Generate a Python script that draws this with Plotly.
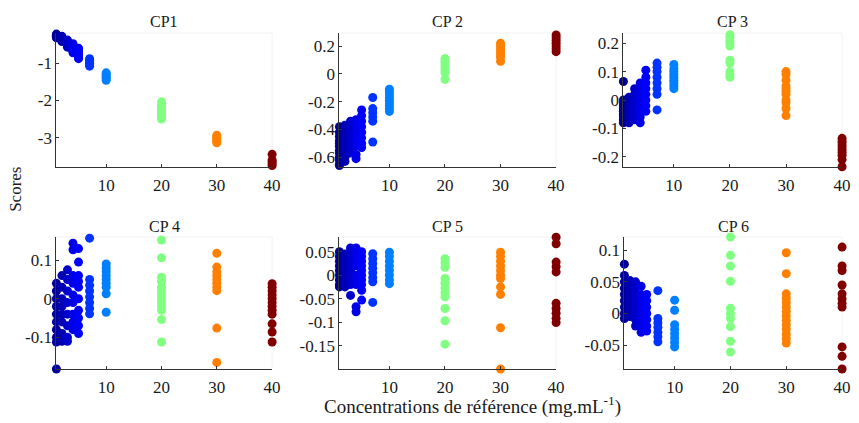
import plotly.graph_objects as go

# ---------------- data ----------------
conc = [1, 2, 3, 4, 5, 7, 10, 20, 30, 40]

cp1_scores = [
    [-0.22, -0.24, -0.26, -0.28, -0.30, -0.32],
    [-0.28, -0.32, -0.35, -0.38, -0.40, -0.42],
    [-0.38, -0.42, -0.46, -0.50, -0.54, -0.57],
    [-0.48, -0.52, -0.56, -0.60, -0.64, -0.68, -0.72],
    [-0.60, -0.65, -0.70, -0.75, -0.80, -0.85, -0.88],
    [-0.88, -0.92, -0.96, -1.00, -1.04, -1.08],
    [-1.26, -1.30, -1.34, -1.38, -1.42, -1.46],
    [-2.04, -2.10, -2.16, -2.22, -2.28, -2.34, -2.40, -2.46, -2.50],
    [-2.94, -2.98, -3.02, -3.06, -3.10, -3.14],
    [-3.45, -3.60, -3.65, -3.70, -3.75, -3.80],
]
cp2_scores = [
    [-0.38, -0.42, -0.45, -0.48, -0.50, -0.52, -0.55, -0.57, -0.60, -0.62, -0.65, -0.66],
    [-0.37, -0.41, -0.44, -0.47, -0.50, -0.53, -0.56, -0.60, -0.63],
    [-0.34, -0.38, -0.42, -0.46, -0.50, -0.54, -0.57],
    [-0.33, -0.36, -0.40, -0.44, -0.48, -0.52, -0.58, -0.61],
    [-0.26, -0.30, -0.34, -0.38, -0.42, -0.46, -0.50, -0.53],
    [-0.17, -0.25, -0.28, -0.31, -0.34, -0.49],
    [-0.11, -0.13, -0.15, -0.17, -0.19, -0.21, -0.23, -0.25, -0.27],
    [0.11, 0.09, 0.07, 0.05, 0.03, 0.01, -0.04],
    [0.22, 0.20, 0.18, 0.16, 0.14, 0.12, 0.09],
    [0.28, 0.26, 0.24, 0.22, 0.20, 0.18, 0.16],
]
cp3_scores = [
    [0.065, 0.0, -0.01, -0.02, -0.03, -0.04, -0.05, -0.06, -0.07, -0.08],
    [0.01, 0.0, -0.02, -0.03, -0.04, -0.05, -0.06, -0.07, -0.08],
    [0.04, 0.02, 0.0, -0.02, -0.04, -0.06, -0.07],
    [0.06, 0.04, 0.02, 0.0, -0.02, -0.04, -0.06, -0.08],
    [0.105, 0.08, 0.06, 0.04, 0.02, 0.0, -0.02, -0.04],
    [0.13, 0.115, 0.10, 0.08, 0.06, 0.04, 0.02, -0.035],
    [0.125, 0.11, 0.10, 0.09, 0.08, 0.07, 0.06, 0.05, 0.04],
    [0.23, 0.22, 0.21, 0.20, 0.19, 0.14, 0.13, 0.10, 0.09, 0.08],
    [0.10, 0.09, 0.07, 0.05, 0.04, 0.03, 0.02, 0.0, -0.01, -0.03, -0.055],
    [-0.135, -0.145, -0.155, -0.165, -0.175, -0.185, -0.195, -0.21, -0.235],
]
cp4_scores = [
    [0.04, 0.02, 0.0, -0.02, -0.04, -0.06, -0.08, -0.10, -0.112, -0.182],
    [0.06, 0.03, 0.0, -0.02, -0.04, -0.06, -0.09, -0.11],
    [0.075, 0.05, 0.02, -0.01, -0.04, -0.07, -0.10, -0.11],
    [0.144, 0.127, 0.06, 0.04, 0.01, -0.01, -0.04, -0.06, -0.08],
    [0.13, 0.095, 0.06, 0.045, 0.03, 0.0, -0.03, -0.05, -0.07, -0.09],
    [0.157, 0.05, 0.035, 0.02, 0.005, -0.01, -0.025, -0.039],
    [0.09, 0.08, 0.07, 0.06, 0.05, 0.04, 0.03, 0.013, -0.035],
    [0.152, 0.106, 0.056, 0.045, 0.03, 0.02, 0.01, 0.0, -0.01, -0.02, -0.03, -0.054, -0.112],
    [0.118, 0.082, 0.07, 0.06, 0.05, 0.04, 0.03, 0.021, -0.076, -0.165],
    [0.039, 0.03, 0.02, 0.01, 0.0, -0.01, -0.02, -0.03, -0.04, -0.065, -0.086, -0.112],
]
cp5_scores = [
    [0.05, 0.04, 0.03, 0.02, 0.01, 0.0, -0.01, -0.02, -0.025],
    [0.045, 0.035, 0.025, 0.015, 0.005, -0.005, -0.015, -0.025],
    [0.058, 0.05, 0.04, 0.03, 0.02, 0.01, 0.0, -0.01, -0.02, -0.043],
    [0.058, 0.05, 0.04, 0.03, 0.02, 0.0, -0.01, -0.02, -0.067, -0.078],
    [0.05, 0.04, 0.03, 0.02, 0.01, 0.0, -0.01, -0.02, -0.032, -0.053],
    [0.046, 0.035, 0.025, 0.015, 0.005, -0.005, -0.014, -0.058],
    [0.049, 0.04, 0.03, 0.02, 0.01, 0.0, -0.01, -0.018],
    [0.035, 0.026, 0.017, -0.007, -0.017, -0.027, -0.037, -0.046, -0.071, -0.097, -0.147],
    [0.049, 0.04, 0.03, 0.02, 0.01, 0.0, -0.007, -0.025, -0.041, -0.112, -0.2],
    [0.081, 0.067, 0.028, 0.018, 0.007, -0.06, -0.071, -0.081, -0.092, -0.101],
]
cp6_scores = [
    [0.078, 0.06, 0.05, 0.04, 0.03, 0.02, 0.01, 0.0, -0.008],
    [0.052, 0.045, 0.035, 0.025, 0.015, 0.005, -0.005],
    [0.05, 0.04, 0.03, 0.02, 0.01, 0.0, -0.01, -0.02],
    [0.043, 0.03, 0.02, 0.01, 0.0, -0.01, -0.02, -0.03],
    [0.03, 0.02, 0.01, 0.0, -0.01, -0.02, -0.028],
    [0.036, -0.008, -0.015, -0.022, -0.03, -0.037, -0.045],
    [0.021, 0.005, -0.018, -0.025, -0.032, -0.039, -0.046, -0.053],
    [0.121, 0.092, 0.075, 0.051, 0.008, 0.0, -0.008, -0.021, -0.044, -0.061],
    [0.096, 0.063, 0.031, 0.024, 0.017, 0.01, 0.003, -0.004, -0.011, -0.018, -0.025, -0.033, -0.04, -0.047],
    [0.105, 0.075, 0.068, 0.045, 0.031, 0.023, 0.016, 0.01, -0.053, -0.068, -0.088],
]

panel_titles = ["CP1", "CP 2", "CP 3", "CP 4", "CP 5", "CP 6"]
panel_scores = [cp1_scores, cp2_scores, cp3_scores, cp4_scores, cp5_scores, cp6_scores]

y_ranges = [[-3.79, -0.19], [-0.67, 0.294], [-0.236, 0.236],
            [-0.182, 0.16], [-0.2, 0.0815], [-0.088, 0.121]]
y_tickvals = [[-1, -2, -3], [0.2, 0, -0.2, -0.4, -0.6], [0.2, 0.1, 0, -0.1, -0.2],
              [0.1, 0, -0.1], [0.05, 0, -0.05, -0.1, -0.15], [0.1, 0.05, 0, -0.05]]
y_ticktext = [["-1", "-2", "-3"], ["0.2", "0", "-0.2", "-0.4", "-0.6"],
              ["0.2", "0.1", "0", "-0.1", "-0.2"], ["0.1", "0", "-0.1"],
              ["0.05", "0", "-0.05", "-0.1", "-0.15"], ["0.1", "0.05", "0", "-0.05"]]
x_tickvals = [10, 20, 30, 40]
x_ticktext = ["10", "20", "30", "40"]
x_title = "Concentrations de référence (mg.mL<sup>-1</sup>)"
y_title = "Scores"

# ---------------- style ----------------
W, H = 859, 423
FONT = "Liberation Serif, Times New Roman, serif"
AXC = "#333333"
TXT = "#1a1a1a"


def jet(t):
    def f(v):
        return max(0.0, min(1.0, v))
    r = f(min(4 * t - 1.5, -4 * t + 4.5))
    g = f(min(4 * t - 0.5, -4 * t + 3.5))
    b = f(min(4 * t + 0.5, -4 * t + 2.5))
    return "rgb(%d,%d,%d)" % (round(r * 255), round(g * 255), round(b * 255))


# pixel boxes (left, right, top, bottom) for each panel
boxes = [(57, 275, 33, 167), (343, 562, 33, 167), (630, 851, 33, 167),
         (57, 275, 237, 369), (343, 562, 237, 369), (631, 851, 237, 369)]

fig = go.Figure()
layout = dict(
    width=W, height=H, margin=dict(l=0, r=0, t=0, b=0),
    paper_bgcolor="white", plot_bgcolor="white", showlegend=False,
    font=dict(family=FONT, size=16, color=TXT),
)
annotations = []
shapes = []
for i, scores in enumerate(panel_scores):
    n = i + 1
    xa = "x" if n == 1 else "x%d" % n
    ya = "y" if n == 1 else "y%d" % n
    for c, vals in zip(conc, scores):
        fig.add_trace(go.Scatter(
            x=[c] * len(vals), y=vals, mode="markers", xaxis=xa, yaxis=ya,
            cliponaxis=False,
            marker=dict(size=9, color=jet(c / 40.0), line=dict(width=0)),
        ))
    l, r, t, b = boxes[i]
    xd = [l / W, r / W]
    yd = [1 - b / H, 1 - t / H]
    axis_common = dict(showgrid=False, zeroline=False, showline=True,
                       linecolor=AXC, linewidth=1, ticks="inside", ticklen=3,
                       tickcolor=AXC, tickfont=dict(family=FONT, size=17, color=TXT))
    layout["xaxis" if n == 1 else "xaxis%d" % n] = dict(
        domain=xd, range=[1, 40], anchor=ya, tickmode="array",
        tickvals=x_tickvals, ticktext=x_ticktext, ticklabelstandoff=3, **axis_common)
    layout["yaxis" if n == 1 else "yaxis%d" % n] = dict(
        domain=yd, range=y_ranges[i], anchor=xa, tickmode="array",
        tickvals=y_tickvals[i], ticktext=y_ticktext[i], ticklabelstandoff=0, **axis_common)
    # faint box on top/right like the original
    shapes.append(dict(type="line", xref="paper", yref="paper", x0=xd[0], x1=xd[1],
                       y0=yd[1], y1=yd[1], line=dict(color="#f2f2f2", width=1), layer="below"))
    shapes.append(dict(type="line", xref="paper", yref="paper", x0=xd[1], x1=xd[1],
                       y0=yd[0], y1=yd[1], line=dict(color="#f2f2f2", width=1), layer="below"))
    annotations.append(dict(text=panel_titles[i], xref="paper", yref="paper",
                            x=(xd[0] + xd[1]) / 2, y=1 - (t - 11) / H,
                            xanchor="center", yanchor="middle", showarrow=False,
                            font=dict(family=FONT, size=16, color=TXT)))

annotations.append(dict(text=x_title, xref="paper", yref="paper", x=478 / W, y=1 - 405 / H,
                        xanchor="center", yanchor="middle", showarrow=False,
                        font=dict(family=FONT, size=19, color=TXT)))
annotations.append(dict(text=y_title, xref="paper", yref="paper", x=15 / W, y=1 - 189 / H,
                        xanchor="center", yanchor="middle", showarrow=False, textangle=-90,
                        font=dict(family=FONT, size=17, color=TXT)))
layout["annotations"] = annotations
layout["shapes"] = shapes
fig.update_layout(**layout)
fig.write_html("out.html", config={"displayModeBar": False},
               post_script="document.body.style.margin='0';document.body.style.overflow='hidden';")
